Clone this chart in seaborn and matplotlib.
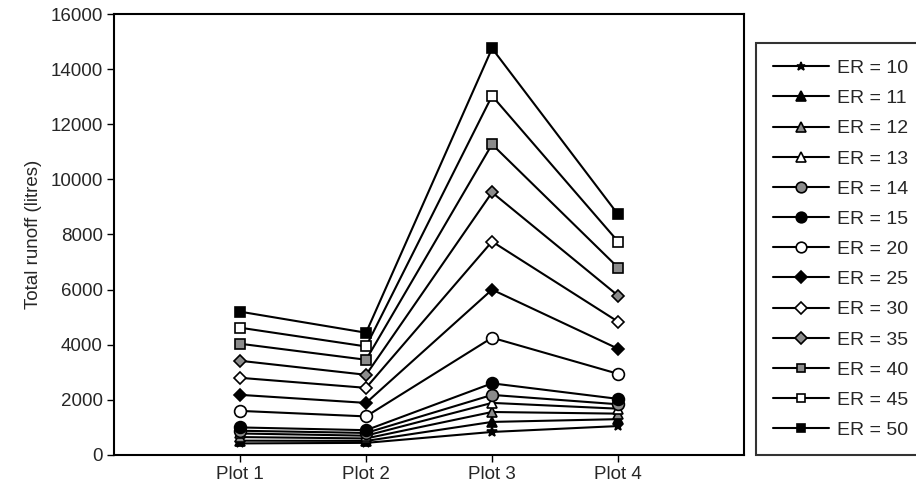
import matplotlib
matplotlib.use("Agg")
import matplotlib.pyplot as plt
import seaborn as sns
import pandas as pd

categories = ["Plot 1", "Plot 2", "Plot 3", "Plot 4"]
er_labels = ["ER = 10", "ER = 11", "ER = 12", "ER = 13", "ER = 14", "ER = 15",
             "ER = 20", "ER = 25", "ER = 30", "ER = 35", "ER = 40", "ER = 45", "ER = 50"]
er10 = [420, 440, 836, 1050]
er11 = [520, 510, 1200, 1300]
er12 = [650, 600, 1560, 1500]
er13 = [780, 700, 1890, 1680]
er14 = [880, 800, 2180, 1840]
er15 = [1000, 900, 2600, 2036]
er20 = [1600, 1400, 4255, 2945]
er25 = [2182, 1890, 6000, 3855]
er30 = [2800, 2436, 7745, 4836]
er35 = [3418, 2909, 9527, 5782]
er40 = [4036, 3455, 11273, 6800]
er45 = [4618, 3938, 13030, 7745]
er50 = [5200, 4436, 14753, 8727]
series = [er10, er11, er12, er13, er14, er15, er20, er25, er30, er35, er40, er45, er50]

markers = ["*", "^", "^", "^", "o", "o", "o", "D", "D", "D", "s", "s", "s"]
faces = ["black", "black", "#8c8c8c", "white", "#8c8c8c", "black", "white",
         "black", "white", "#8c8c8c", "#8c8c8c", "white", "black"]
sizes = [7, 7.5, 7.5, 7.5, 8.5, 8.5, 8.5, 6.5, 6.5, 6.5, 6.5, 6.5, 6.5]

rows = []
for lab, vals in zip(er_labels, series):
    for c, v in zip(categories, vals):
        rows.append({"plot": c, "runoff": v, "ER": lab})
df = pd.DataFrame(rows)

sns.set_style("white")
plt.rcParams["font.family"] = ["Liberation Sans", "DejaVu Sans"]

fig = plt.figure(figsize=(9.16, 4.93), dpi=100)
ax = fig.add_axes([0.1245, 0.0771, 0.6878, 0.8945])

for lab, m, fc, ms in zip(er_labels, markers, faces, sizes):
    sub = df[df["ER"] == lab]
    sns.lineplot(data=sub, x="plot", y="runoff", ax=ax, color="black", lw=1.5,
                 marker=m, markersize=ms, markerfacecolor=fc, markeredgecolor="black",
                 markeredgewidth=1.2, label=lab, legend=False)

ax.set_xlim(-1.0, 4.0)
ax.set_ylim(0, 16000)
ax.set_yticks(range(0, 16001, 2000))
ax.set_xlabel("")
ax.set_ylabel("Total runoff (litres)", fontsize=13.5, labelpad=6)
ax.tick_params(axis="both", labelsize=13.5, direction="out", length=5, width=1, color="black",
               left=True, bottom=True, pad=3)
for s in ax.spines.values():
    s.set_color("black")
    s.set_linewidth(1.5)

handles, labels = ax.get_legend_handles_labels()
leg = fig.legend(handles, labels, loc="upper left", bbox_to_anchor=(0.8253, 0.9128),
                 fontsize=14, frameon=True, fancybox=False, edgecolor="black",
                 labelspacing=0.645, handlelength=2.88, handletextpad=0.46, borderpad=0.85,
                 borderaxespad=0, markerscale=0.9)
leg.get_frame().set_linewidth(1.5)

fig.savefig("out.png", dpi=100)
